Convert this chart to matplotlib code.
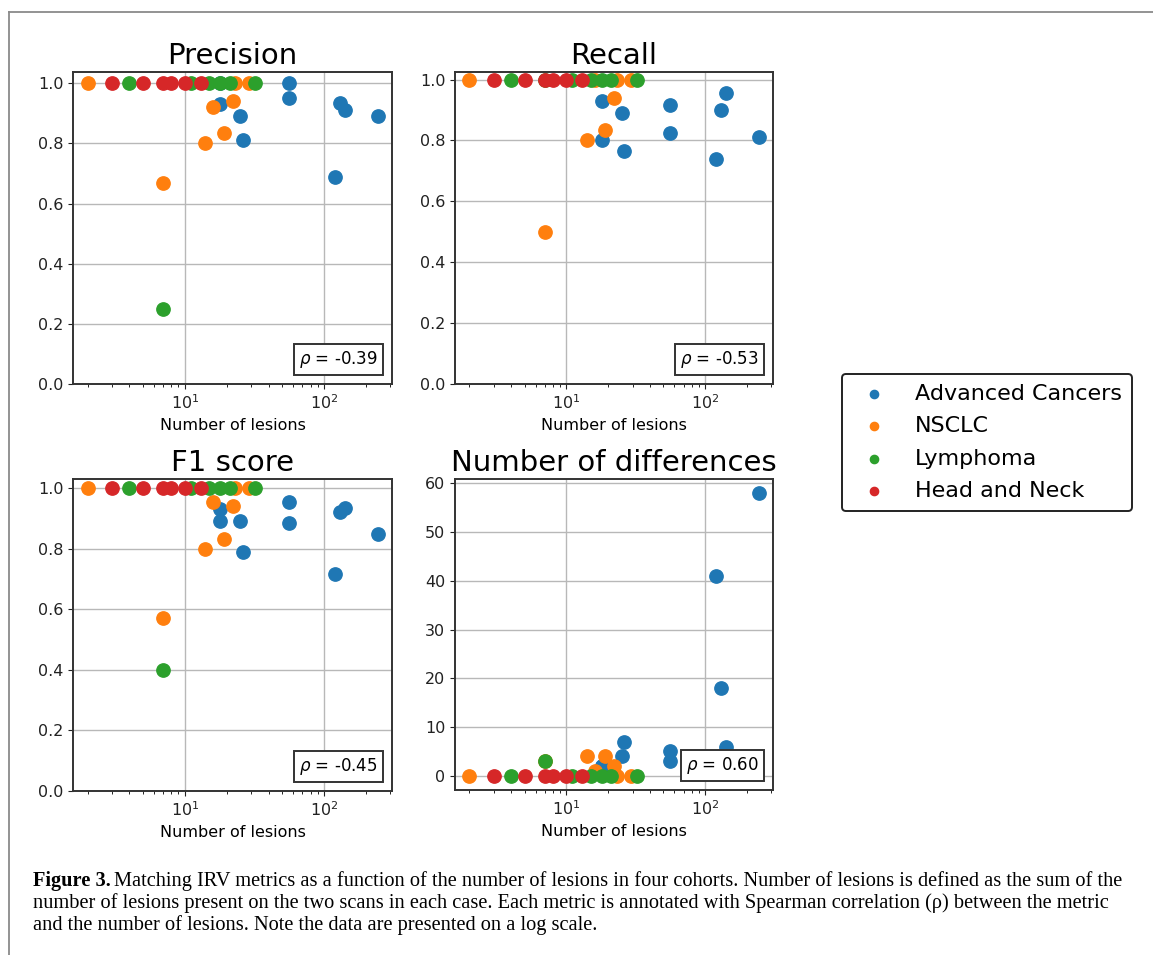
import matplotlib
matplotlib.use("Agg")
import matplotlib.pyplot as plt
from matplotlib.lines import Line2D
from matplotlib.offsetbox import AnchoredText

# cohorts, colours follow the default cycle
cohorts = ["Advanced Cancers", "NSCLC", "Lymphoma", "Head and Neck"]

adv_n = [18, 18, 25, 26, 56, 56, 119, 130, 142, 242]
adv_prec = [1.0, 0.93, 0.89, 0.81, 1.0, 0.95, 0.69, 0.935, 0.91, 0.89]
adv_rec = [0.80, 0.93, 0.89, 0.765, 0.915, 0.825, 0.74, 0.90, 0.955, 0.81]
adv_f1 = [0.89, 0.93, 0.89, 0.79, 0.955, 0.885, 0.715, 0.92, 0.935, 0.85]
adv_diff = [2, 2, 4, 7, 3, 5, 41, 18, 6, 58]

nsclc_n = [2, 7, 14, 16, 19, 22, 23, 29]
nsclc_prec = [1.0, 0.667, 0.8, 0.92, 0.833, 0.94, 1.0, 1.0]
nsclc_rec = [1.0, 0.5, 0.8, 1.0, 0.833, 0.94, 1.0, 1.0]
nsclc_f1 = [1.0, 0.571, 0.8, 0.955, 0.833, 0.94, 1.0, 1.0]
nsclc_diff = [0, 3, 4, 1, 4, 2, 0, 0]

lymph_n = [4, 7, 11, 15, 18, 21, 32]
lymph_prec = [1.0, 0.25, 1.0, 1.0, 1.0, 1.0, 1.0]
lymph_rec = [1.0, 1.0, 1.0, 1.0, 1.0, 1.0, 1.0]
lymph_f1 = [1.0, 0.4, 1.0, 1.0, 1.0, 1.0, 1.0]
lymph_diff = [0, 3, 0, 0, 0, 0, 0]

hn_n = [3, 5, 7, 8, 10, 13]
hn_prec = [1.0, 1.0, 1.0, 1.0, 1.0, 1.0]
hn_rec = [1.0, 1.0, 1.0, 1.0, 1.0, 1.0]
hn_f1 = [1.0, 1.0, 1.0, 1.0, 1.0, 1.0]
hn_diff = [0, 0, 0, 0, 0, 0]

titles = ["Precision", "Recall", "F1 score", "Number of differences"]
rhos = ["-0.39", "-0.53", "-0.45", "0.60"]

metrics = [
    [adv_prec, nsclc_prec, lymph_prec, hn_prec],
    [adv_rec, nsclc_rec, lymph_rec, hn_rec],
    [adv_f1, nsclc_f1, lymph_f1, hn_f1],
    [adv_diff, nsclc_diff, lymph_diff, hn_diff],
]
ns = [adv_n, nsclc_n, lymph_n, hn_n]

W, H = 1153, 955
fig = plt.figure(figsize=(W / 100, H / 100), dpi=100)

# axes boxes in pixels: left, top, right, bottom
boxes = [(73, 72, 392, 384), (455, 72, 773, 384),
         (73, 479, 392, 791), (455, 479, 773, 790)]

for k in range(4):
    l, t, r, b = boxes[k]
    ax = fig.add_axes([l / W, 1 - b / H, (r - l) / W, (b - t) / H])
    for i in range(4):
        ax.scatter(ns[i], metrics[k][i], s=92, color="C%d" % i,
                   label=cohorts[i], zorder=3)
    ax.set_xscale("log")
    if k < 3:
        ax.set_ylim(bottom=0)
    ax.grid(True, color="#b8b8b8", lw=1.0)
    ax.set_axisbelow(True)
    ax.set_title(titles[k], fontsize=21, pad=6)
    ax.set_xlabel("Number of lesions", fontsize=11.5)
    ax.tick_params(labelsize=11.5, colors="#222222")
    for sp in ax.spines.values():
        sp.set_linewidth(1.4)
        sp.set_color("#333333")
    at = AnchoredText(r"$\rho$ = " + rhos[k], loc="lower right",
                      prop=dict(size=12), frameon=True, borderpad=0.55, pad=0.3)
    at.patch.set_boxstyle("square,pad=0.0")
    at.patch.set_edgecolor("#333333")
    at.patch.set_linewidth(1.4)
    ax.add_artist(at)
    if k == 0:
        handles, labels = ax.get_legend_handles_labels()

leg = fig.legend(handles, labels, loc="center left",
                 bbox_to_anchor=(842 / W, 1 - 442.5 / H), fontsize=16,
                 markerscale=0.62, frameon=True, handletextpad=0.85,
                 borderpad=0.45, labelspacing=0.56, borderaxespad=0)
leg.get_frame().set_edgecolor("#222222")
leg.get_frame().set_linewidth(1.4)
leg.get_frame().set_alpha(1)

# caption
cap_font = "Liberation Serif"
cap_size = 14.65
fig.canvas.draw()
rend = fig.canvas.get_renderer()
bold = fig.text(33 / W, 1 - 886 / H, "Figure 3.", fontsize=cap_size,
                family=cap_font, weight="bold", va="baseline")
bw = bold.get_window_extent(rend).width
fig.text((33 + bw + 3) / W, 1 - 886 / H,
         "Matching IRV metrics as a function of the number of lesions in four cohorts. "
         "Number of lesions is defined as the sum of the",
         fontsize=cap_size, family=cap_font, va="baseline")
fig.text(33 / W, 1 - 908 / H,
         "number of lesions present on the two scans in each case. Each metric is annotated "
         "with Spearman correlation (ρ) between the metric",
         fontsize=cap_size, family=cap_font, va="baseline")
fig.text(33 / W, 1 - 930 / H,
         "and the number of lesions. Note the data are presented on a log scale.",
         fontsize=cap_size, family=cap_font, va="baseline")

# page frame: top and left edges only
fig.add_artist(Line2D([9 / W, 1], [1 - 12 / H, 1 - 12 / H], transform=fig.transFigure,
                      color="#8a8a8a", lw=1.3))
fig.add_artist(Line2D([9 / W, 9 / W], [0, 1 - 12 / H], transform=fig.transFigure,
                      color="#8a8a8a", lw=1.3))

fig.savefig("out.png", dpi=100)
